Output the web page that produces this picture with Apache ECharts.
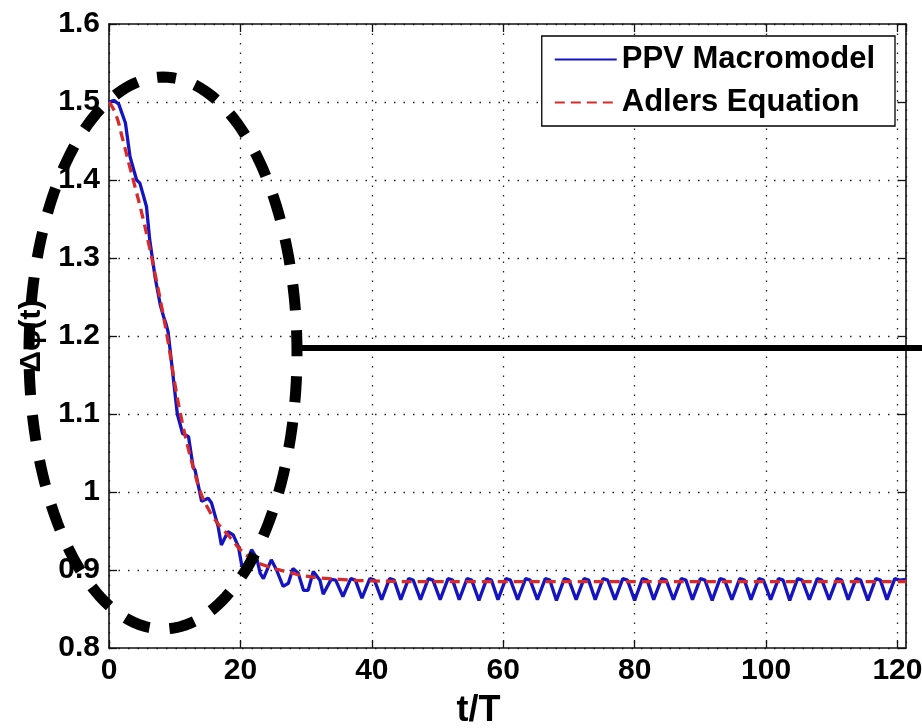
<!DOCTYPE html>
<html>
<head>
<meta charset="utf-8">
<script src="https://cdn.jsdelivr.net/npm/echarts@6/dist/echarts.min.js"></script>
<style>
html,body{margin:0;padding:0;background:#fff;}
#chart{width:922px;height:728px;}
</style>
</head>
<body>
<div id="chart"></div>
<script>
// ---- data ----
const seriesNames = ['PPV Macromodel', 'Adlers Equation'];

const ppvT = [0, 0.8, 1.5, 2.5, 3.2, 4.2, 4.7, 5.7, 6.2, 6.6, 7.0, 7.8, 8.3, 8.7, 9.0, 9.6, 10.4, 11.2, 12.1, 12.8, 13.1,
  14.1, 15.1, 15.6, 16.6, 17.1, 18.1, 18.9, 19.7, 20.2, 20.7, 21.7, 22.5, 23.0, 23.5, 24.7, 25.5, 26.5, 27.3, 28.0,
  28.8, 29.6, 30.3, 31.1, 32.1,
  32.6, 33.8, 34.5, 35.6, 36.8, 37.5, 38.5, 39.7, 40.4, 41.5, 42.7, 43.4, 44.4, 45.6, 46.3, 47.4, 48.6, 49.3,
  50.4, 51.6, 52.3, 53.3, 54.5, 55.2, 56.3, 57.5, 58.2, 59.2, 60.4, 61.1, 62.2, 63.4, 64.1, 65.2, 66.4, 67.1,
  68.1, 69.3, 70.0, 71.1, 72.3, 73.0, 74.0, 75.2, 75.9, 77.0, 78.2, 78.9, 80.0, 81.2, 81.9, 82.9, 84.1, 84.8,
  85.9, 87.1, 87.8, 88.8, 90.0, 90.7, 91.8, 93.0, 93.7, 94.8, 96.0, 96.7, 97.7, 98.9, 99.6, 100.7, 101.9, 102.6,
  103.6, 104.8, 105.5, 106.6, 107.8, 108.5, 109.6, 110.8, 111.5, 112.5, 113.7, 114.4, 115.5, 116.7, 117.4,
  118.4, 119.6, 120.3, 121.3];
const ppvV = [1.500, 1.502, 1.497, 1.473, 1.430, 1.400, 1.396, 1.366, 1.323, 1.300, 1.276, 1.240, 1.225, 1.215, 1.205, 1.160, 1.100, 1.075, 1.071, 1.032, 1.028,
  0.988, 0.992, 0.986, 0.956, 0.932, 0.949, 0.945, 0.930, 0.906, 0.904, 0.926, 0.915, 0.896, 0.889, 0.913, 0.900, 0.879, 0.883, 0.902,
  0.896, 0.874, 0.874, 0.898, 0.887,
  0.869, 0.888, 0.887, 0.866, 0.889, 0.887, 0.864, 0.889, 0.887, 0.862, 0.889, 0.887, 0.862, 0.889, 0.887, 0.862, 0.889, 0.887,
  0.862, 0.889, 0.887, 0.862, 0.889, 0.887, 0.861, 0.889, 0.887, 0.862, 0.889, 0.887, 0.862, 0.889, 0.887, 0.862, 0.889, 0.887,
  0.861, 0.889, 0.887, 0.862, 0.889, 0.887, 0.862, 0.889, 0.887, 0.862, 0.889, 0.887, 0.861, 0.889, 0.887, 0.862, 0.889, 0.887,
  0.862, 0.889, 0.887, 0.862, 0.889, 0.887, 0.861, 0.889, 0.887, 0.862, 0.889, 0.887, 0.862, 0.889, 0.887, 0.862, 0.889, 0.887,
  0.861, 0.889, 0.887, 0.862, 0.889, 0.887, 0.862, 0.889, 0.887, 0.862, 0.889, 0.887, 0.861, 0.889, 0.887,
  0.862, 0.889, 0.887, 0.888];

const adlerT = [0, 1, 2, 3, 4, 5, 6, 7, 8, 9, 10, 11, 12, 13, 14, 15, 16, 17, 18, 19, 20, 22, 24, 27, 30, 35, 40, 50, 121.3];
const adlerV = [1.500, 1.485, 1.455, 1.422, 1.390, 1.357, 1.320, 1.280, 1.238, 1.192, 1.140, 1.095, 1.058, 1.026, 0.998, 0.980, 0.966, 0.955, 0.946, 0.936, 0.926,
  0.913, 0.905, 0.898, 0.892, 0.888, 0.886, 0.885, 0.885];

const xMin = 0, xMax = 121.3, xStep = 20;
const yMin = 0.8, yMax = 1.6, yStep = 0.1;
const xTickLabels = ['0', '20', '40', '60', '80', '100', '120'];
const yTickLabels = ['0.8', '0.9', '1', '1.1', '1.2', '1.3', '1.4', '1.5', '1.6'];

// ---- chart ----
const FONT = 'Liberation Sans, Arial, Helvetica, sans-serif';
const chart = echarts.init(document.getElementById('chart'), null, {renderer: 'canvas'});

const gridDots = {show: true, lineStyle: {color: '#222', width: 1.3, type: [1.5, 8]}};
const frameLine = {show: true, onZero: false, lineStyle: {color: '#111', width: 1.6}};

function xLabel(v) {
  const i = Math.round((v - xMin) / xStep);
  return Math.abs(v - (xMin + i * xStep)) < 1e-6 ? (xTickLabels[i] || '') : '';
}
function yLabel(v) {
  const i = Math.round((v - yMin) / yStep);
  return yTickLabels[i] || '';
}

// ellipse annotation outline (pixel geometry of the drawn annotation)
const ell = {cx: 163, cy: 353, rx: 134, ry: 276};
const ellPts = [];
for (let k = 0; k <= 180; k++) {
  const a = -Math.PI / 2 + k / 180 * Math.PI * 2;
  ellPts.push([ell.cx + ell.rx * Math.cos(a), ell.cy + ell.ry * Math.sin(a)]);
}

const option = {
  backgroundColor: '#fff',
  animation: false,
  grid: {left: 109, right: 16, top: 24, bottom: 80, show: false, outerBoundsMode: 'none', containLabel: false},
  legend: {
    data: seriesNames,
    orient: 'vertical',
    right: 27,
    top: 36,
    itemWidth: 62,
    itemHeight: 14,
    itemGap: 12,
    padding: [8, 20, 8, 12],
    borderColor: '#000',
    borderWidth: 1.3,
    backgroundColor: '#fff',
    itemStyle: {opacity: 0, borderWidth: 0},
    textStyle: {fontSize: 31, fontWeight: 'bold', color: '#000', fontFamily: FONT}
  },
  xAxis: [{
    type: 'value', min: xMin, max: xMax, interval: xStep, position: 'bottom',
    axisLine: frameLine,
    axisTick: {show: true, inside: true, length: 8, lineStyle: {color: '#111', width: 1.3}},
    axisLabel: {formatter: xLabel, showMaxLabel: false, fontSize: 30, fontWeight: 'bold', color: '#000', fontFamily: FONT, margin: 8},
    splitLine: gridDots,
    name: 't/T', nameLocation: 'middle', nameGap: 45,
    nameTextStyle: {fontSize: 36, fontWeight: 'bold', color: '#000', fontFamily: FONT, padding: [0, 58, 0, 0]}
  }, {
    type: 'value', min: xMin, max: xMax, interval: xStep, position: 'top',
    axisLine: frameLine,
    axisTick: {show: true, inside: true, length: 8, lineStyle: {color: '#111', width: 1.3}},
    axisLabel: {show: false}, splitLine: {show: false}
  }],
  yAxis: [{
    type: 'value', min: yMin, max: yMax, interval: yStep, position: 'left',
    axisLine: frameLine,
    axisTick: {show: true, inside: true, length: 8, lineStyle: {color: '#111', width: 1.3}},
    axisLabel: {formatter: yLabel, fontSize: 30, fontWeight: 'bold', color: '#000', fontFamily: FONT, margin: 9},
    splitLine: gridDots,
    name: 'Δφ(t)', nameLocation: 'middle', nameGap: 62, nameRotate: 90,
    nameTextStyle: {fontSize: 30, fontWeight: 'bold', color: '#000', fontFamily: FONT}
  }, {
    type: 'value', min: yMin, max: yMax, interval: yStep, position: 'right',
    axisLine: frameLine,
    axisTick: {show: true, inside: true, length: 8, lineStyle: {color: '#111', width: 1.3}},
    axisLabel: {show: false}, splitLine: {show: false}
  }],
  series: [{
    name: seriesNames[0], type: 'line', xAxisIndex: 0, yAxisIndex: 0,
    data: ppvT.map((t, i) => [t, ppvV[i]]),
    symbol: 'none', smooth: false,
    lineStyle: {color: '#1414c0', width: 3.3},
    itemStyle: {color: '#1414c0'},
    z: 3
  }, {
    name: seriesNames[1], type: 'line', xAxisIndex: 0, yAxisIndex: 0,
    data: adlerT.map((t, i) => [t, adlerV[i]]),
    symbol: 'none', smooth: true,
    lineStyle: {color: '#d92a2a', width: 3.3, type: [10, 6]},
    itemStyle: {color: '#d92a2a'},
    z: 4
  }],
  graphic: [{
    type: 'polygon', z: 100, silent: true,
    shape: {points: ellPts},
    style: {fill: 'none', stroke: '#000', lineWidth: 11, lineDash: [26, 20], lineDashOffset: 13}
  }, {
    type: 'line', z: 100, silent: true,
    shape: {x1: 295, y1: 348, x2: 922, y2: 348},
    style: {stroke: '#000', lineWidth: 6}
  }]
};
chart.setOption(option);
</script>
</body>
</html>
